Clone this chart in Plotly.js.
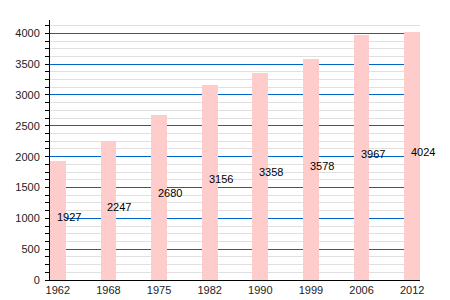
<!DOCTYPE html>
<html>
<head>
<meta charset="utf-8">
<script src="https://cdn.plot.ly/plotly-3.0.1.min.js"></script>
<style>html,body{margin:0;padding:0;background:#fff;}#chart{width:450px;height:300px;}</style>
</head>
<body>
<div id="chart"></div>
<script>
const years = ["1962", "1968", "1975", "1982", "1990", "1999", "2006", "2012"];
const population = [1927, 2247, 2680, 3156, 3358, 3578, 3967, 4024];
const yTicks = [0, 500, 1000, 1500, 2000, 2500, 3000, 3500, 4000];

const trace = {
  type: 'bar',
  x: years,
  y: population,
  width: 0.31,
  marker: {color: '#ffcccc', line: {width: 0}},
  hoverinfo: 'none'
};

const annotations = years.map((yr, i) => ({
  x: i,
  y: population[i] / 2,
  xref: 'x',
  yref: 'y',
  text: String(population[i]),
  showarrow: false,
  xanchor: 'left',
  yanchor: 'middle',
  xshift: -3,
  yshift: 4,
  font: {family: 'Liberation Sans, Arial, sans-serif', size: 11, color: '#000'}
}));

const layout = {
  width: 450,
  height: 300,
  margin: {l: 50, r: 30, t: 20, b: 20, pad: 0},
  paper_bgcolor: '#fff',
  plot_bgcolor: '#fff',
  showlegend: false,
  font: {family: 'Liberation Sans, Arial, sans-serif', size: 11, color: '#222'},
  bargap: 0,
  xaxis: {
    type: 'category',
    range: [-0.155, 7.155],
    autorange: false,
    showgrid: false,
    zeroline: false,
    showline: true,
    linecolor: '#000',
    linewidth: 1,
    ticks: '',
    tickfont: {size: 11, color: '#222'},
    fixedrange: true
  },
  yaxis: {
    range: [0, 4216],
    autorange: false,
    tickvals: yTicks,
    ticktext: yTicks.map(String),
    showgrid: true,
    gridcolor: '#0066cc',
    gridwidth: 1,
    zeroline: false,
    showline: true,
    linecolor: '#000',
    linewidth: 1,
    ticks: 'outside',
    ticklen: 4,
    tickcolor: '#000',
    tickfont: {size: 11, color: '#222'},
    ticklabelstandoff: 3,
    minor: {
      dtick: 125,
      tick0: 0,
      showgrid: true,
      gridcolor: '#e0e0e0',
      gridwidth: 1,
      ticks: 'outside',
      ticklen: 4,
      tickcolor: '#000'
    },
    fixedrange: true
  },
  annotations: annotations
};

Plotly.newPlot('chart', [trace], layout, {staticPlot: true, displayModeBar: false});
</script>
</body>
</html>
